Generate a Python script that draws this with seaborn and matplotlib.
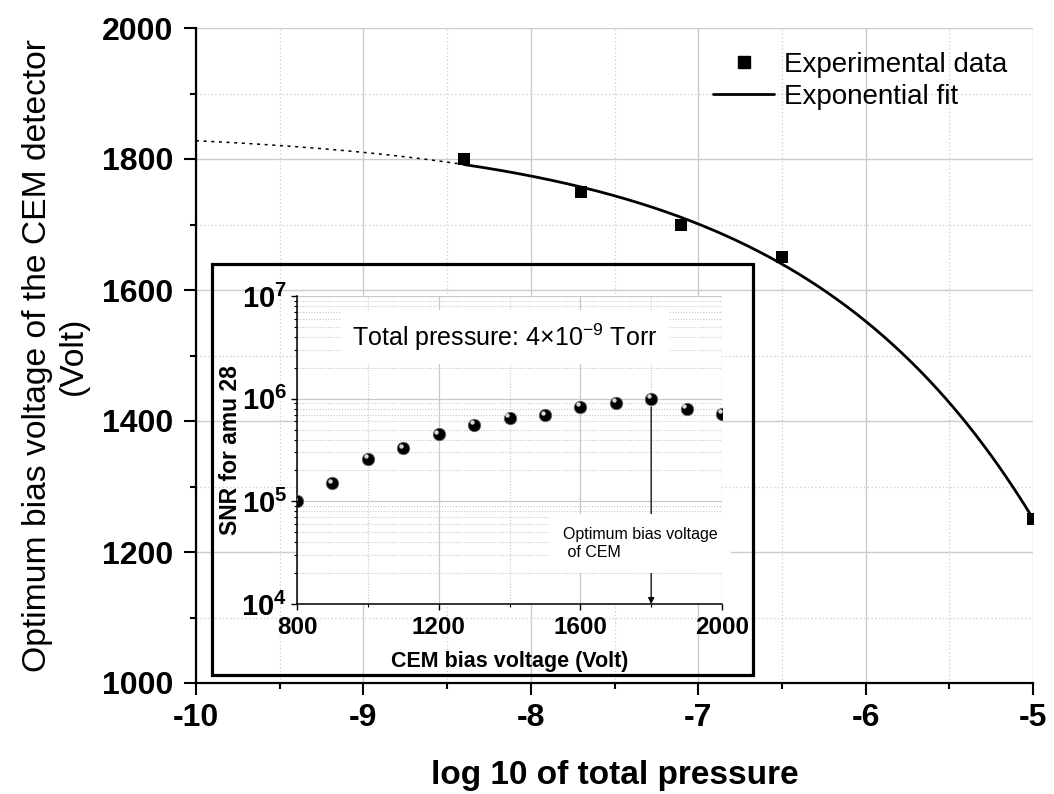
import numpy as np
import pandas as pd
import matplotlib
matplotlib.use("Agg")
import matplotlib.pyplot as plt
import matplotlib.transforms as mtransforms
from matplotlib.patches import Rectangle
from matplotlib.lines import Line2D
from matplotlib.ticker import MultipleLocator, FixedLocator, FixedFormatter, LogLocator, NullFormatter
import seaborn as sns

# ---------------- data ----------------
log_pressure = [-8.4, -7.7, -7.1, -6.5, -5.0]
optimum_voltage = [1800, 1750, 1700, 1650, 1250]

cem_voltage = [800, 900, 1000, 1100, 1200, 1300, 1400, 1500, 1600, 1700, 1800, 1900, 2000]
snr_amu28 = [1.0e5, 1.5e5, 2.6e5, 3.3e5, 4.5e5, 5.6e5, 6.5e5, 6.9e5, 8.3e5, 9.1e5, 1.0e6, 8.0e5, 7.1e5]

main_x_ticks = [-10, -9, -8, -7, -6, -5]
main_y_ticks = [1000, 1200, 1400, 1600, 1800, 2000]
inset_x_ticks = [800, 1200, 1600, 2000]
inset_y_ticks = [1e4, 1e5, 1e6, 1e7]
inset_y_labels = [r"$\mathbf{10^{4}}$", r"$\mathbf{10^{5}}$", r"$\mathbf{10^{6}}$", r"$\mathbf{10^{7}}$"]
optimum_bias = 1800

# ---------------- style ----------------
sns.set_style("white")
plt.rcParams["font.family"] = ["Liberation Sans", "DejaVu Sans"]
plt.rcParams["mathtext.fontset"] = "custom"
plt.rcParams["mathtext.rm"] = "Liberation Sans"
plt.rcParams["mathtext.it"] = "Liberation Sans:italic"
plt.rcParams["mathtext.bf"] = "Liberation Sans:bold"
for key in ["text.color", "axes.labelcolor", "xtick.color", "ytick.color", "axes.edgecolor"]:
    plt.rcParams[key] = "black"

W, H = 1054, 794
fig = plt.figure(figsize=(W / 100, H / 100), dpi=100)
fig.patch.set_facecolor("white")

# ---------------- main axes ----------------
ax = fig.add_axes([196 / W, 1 - 683 / H, 837 / W, 655 / H])
main_df = pd.DataFrame({"x": log_pressure, "y": optimum_voltage})

# exponential fit y = c0 + c1*exp(x/t), fitted to the experimental data
xd = np.array(log_pressure, dtype=float)
yd = np.array(optimum_voltage, dtype=float)
best = None
for t in np.linspace(0.2, 6.0, 3000):
    B = np.column_stack([np.ones_like(xd), np.exp(xd / t)])
    coef = np.linalg.lstsq(B, yd, rcond=None)[0]
    sse = float(np.sum((B @ coef - yd) ** 2))
    if best is None or sse < best[0]:
        best = (sse, t, coef)
_, t_fit, c_fit = best
xs_solid = np.linspace(xd.min(), -5, 300)
xs_dot = np.linspace(-10, xd.min(), 100)
fit_solid = pd.DataFrame({"x": xs_solid, "y": c_fit[0] + c_fit[1] * np.exp(xs_solid / t_fit)})
fit_dot = pd.DataFrame({"x": xs_dot, "y": c_fit[0] + c_fit[1] * np.exp(xs_dot / t_fit)})

sns.lineplot(data=fit_dot, x="x", y="y", ax=ax, color="black", lw=1.1,
             linestyle=(0, (2, 3)), sort=False, zorder=3)
sns.lineplot(data=fit_solid, x="x", y="y", ax=ax, color="black", lw=2.0, sort=False, zorder=3)
sns.scatterplot(data=main_df, x="x", y="y", ax=ax, marker="s", s=80, color="black",
                edgecolor="black", linewidth=0, zorder=4, clip_on=True)

ax.set_xlim(-10, -5)
ax.set_ylim(1000, 2000)
ax.xaxis.set_major_locator(FixedLocator(main_x_ticks))
ax.xaxis.set_minor_locator(MultipleLocator(0.5))
ax.yaxis.set_major_locator(FixedLocator(main_y_ticks))
ax.yaxis.set_minor_locator(MultipleLocator(100))
ax.set_xticklabels([str(v) for v in main_x_ticks])
ax.set_yticklabels([str(v) for v in main_y_ticks])
ax.grid(which="major", color="#cccccc", lw=1.0, ls="-")
ax.grid(which="minor", color="#cccccc", lw=0.9, ls=(0, (1, 2)))
ax.set_axisbelow(True)
for s in ["top", "right"]:
    ax.spines[s].set_visible(False)
for s in ["left", "bottom"]:
    ax.spines[s].set_linewidth(1.6)
    ax.spines[s].set_color("black")
ax.tick_params(which="major", direction="out", length=8.5, width=1.5, color="black",
               labelsize=23, pad=6, left=True, bottom=True)
ax.tick_params(axis="y", which="major", pad=8)
ax.tick_params(which="minor", direction="out", length=4.5, width=1.5, color="black",
               left=True, bottom=True)
for lab in ax.get_xticklabels() + ax.get_yticklabels():
    lab.set_fontweight("bold")
ax.set_xlabel("log 10 of total pressure", fontsize=24, fontweight="bold")
ax.xaxis.set_label_coords(0.5, -0.118)
ax.set_ylabel("Optimum bias voltage of the CEM detector\n(Volt)", fontsize=24.2)
ax.yaxis.set_label_coords(-0.128, 0.5)

handles = [
    Line2D([], [], marker="s", color="black", ls="none", markersize=9),
    Line2D([], [], color="black", lw=2.0),
]
leg = ax.legend(handles, ["Experimental data", "Exponential fit"], loc="upper left",
                bbox_to_anchor=(713 / W, 1 - 52 / H), bbox_transform=fig.transFigure,
                frameon=False, fontsize=20, handlelength=2.2, handletextpad=0.35,
                labelspacing=0.2, borderpad=0, borderaxespad=0)

# inset frame
fig.add_artist(Rectangle((212 / W, 1 - 675 / H), 541 / W, 411 / H, transform=fig.transFigure,
                         fill=False, lw=2.3, edgecolor="black", zorder=5))

# ---------------- inset axes ----------------
ai = fig.add_axes([297 / W, 1 - 604 / H, 425 / W, 308 / H])
ai.set_facecolor("white")
ai.set_yscale("log")
ai.set_xlim(800, 2000)
ai.set_ylim(1e4, 1e7)
ins_df = pd.DataFrame({"v": cem_voltage, "snr": snr_amu28})

ai.xaxis.set_major_locator(FixedLocator(inset_x_ticks))
ai.xaxis.set_minor_locator(MultipleLocator(200))
ai.yaxis.set_major_locator(FixedLocator(inset_y_ticks))
ai.yaxis.set_major_formatter(FixedFormatter(inset_y_labels))
ai.yaxis.set_minor_locator(LogLocator(base=10, subs=np.arange(2, 10)))
ai.yaxis.set_minor_formatter(NullFormatter())
ai.set_xticklabels([str(v) for v in inset_x_ticks])
ai.grid(which="major", color="#c8c8c8", lw=0.9, ls="-")
ai.grid(which="minor", color="#c8c8c8", lw=0.8, ls=(0, (1, 1.5)))
ai.set_axisbelow(True)
for s in ["top", "right"]:
    ai.spines[s].set_visible(False)
for s in ["left", "bottom"]:
    ai.spines[s].set_linewidth(1.1)
    ai.spines[s].set_color("black")
ai.tick_params(which="major", direction="out", length=4, width=1.0, color="black",
               labelsize=17.5, pad=5, left=True, bottom=True)
ai.tick_params(axis="y", which="major", labelsize=21, pad=3)
ai.tick_params(which="minor", direction="out", length=2.5, width=0.8, color="black",
               left=True, bottom=True)
for lab in ai.get_xticklabels():
    lab.set_fontweight("bold")

sns.scatterplot(data=ins_df, x="v", y="snr", ax=ai, marker="o", s=80, color="black",
                edgecolor="#666666", linewidth=0.6, zorder=6, clip_on=True)
hl = mtransforms.offset_copy(ai.transData, fig=fig, x=-1.6, y=1.8, units="points")
ai.scatter(ins_df["v"], ins_df["snr"], s=10, color="white", alpha=0.85, linewidths=0,
           transform=hl, zorder=7, clip_on=True)

ai.set_xlabel("CEM bias voltage (Volt)", fontsize=15.5, fontweight="bold")
ai.xaxis.set_label_coords(0.5, -0.152)
ai.set_ylabel("SNR for amu 28", fontsize=16.5, fontweight="bold")
ai.yaxis.set_label_coords(-0.13, 0.5)

ai.text(1387, 4.0e6, "Total pressure: 4×10$^{-9}$ Torr", fontsize=18, ha="center", va="center",
        zorder=5, bbox=dict(boxstyle="square,pad=0.45", fc="white", ec="none"))
opt_idx = cem_voltage.index(optimum_bias)
ai.annotate("", xy=(optimum_bias, 1e4), xytext=(optimum_bias, snr_amu28[opt_idx]),
            arrowprops=dict(arrowstyle="-|>", lw=0.9, color="black", mutation_scale=9,
                            shrinkA=6, shrinkB=0), zorder=4)
ai.text(1551, 3.9e4, "Optimum bias voltage\n of CEM", fontsize=11.5, ha="left", va="center",
        linespacing=1.3, zorder=5,
        bbox=dict(boxstyle="square,pad=0.8", fc="white", ec="none"))

fig.savefig("out.png", dpi=100, facecolor="white")
